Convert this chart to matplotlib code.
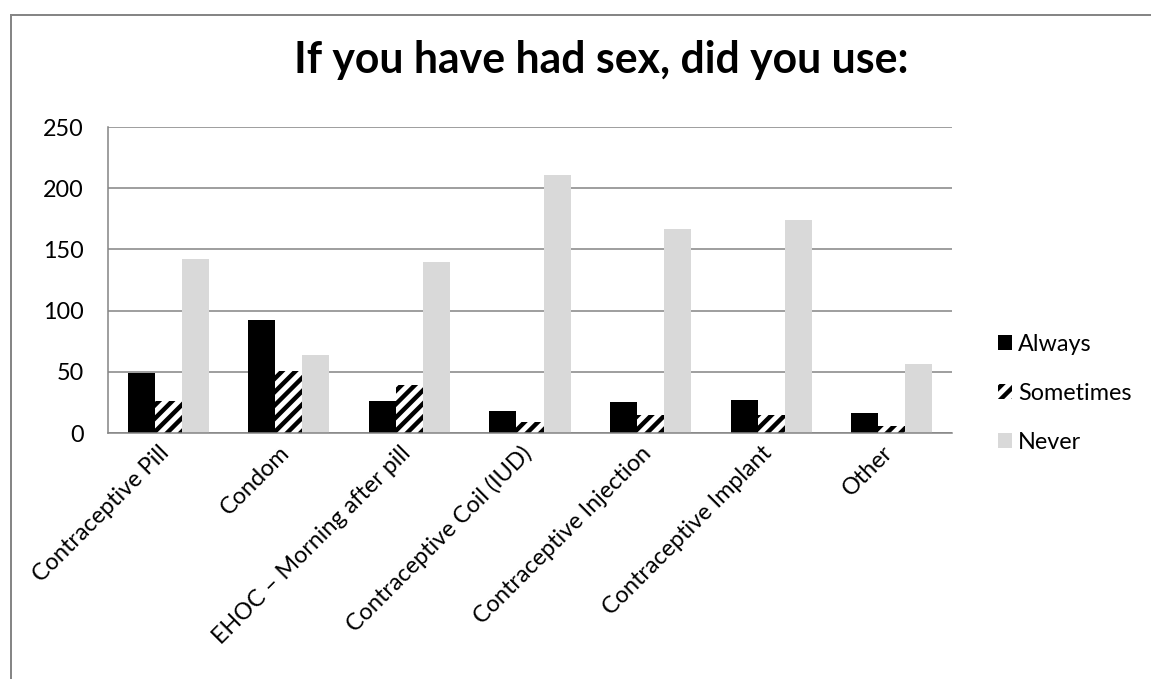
import numpy as np
import matplotlib
matplotlib.use("Agg")
import matplotlib.pyplot as plt
import matplotlib.transforms as mtransforms
from matplotlib.patches import Patch
from matplotlib.lines import Line2D

plt.rcParams['font.family'] = ['Lato', 'DejaVu Sans']
plt.rcParams['hatch.linewidth'] = 4.0

# Survey answers per method
categories = ["Contraceptive Pill", "Condom", "EHOC \u2013 Morning after pill",
              "Contraceptive Coil (IUD)", "Contraceptive Injection",
              "Contraceptive Implant", "Other"]
always = [49, 92, 26, 18, 25, 27, 16]
sometimes = [26, 51, 39, 9, 15, 15, 6]
never = [142, 64, 140, 211, 167, 174, 56]
yticks = [0, 50, 100, 150, 200, 250]

grey = "#868686"
light = "#D9D9D9"

dpi = 80
fig = plt.figure(figsize=(1151 / dpi, 679 / dpi), dpi=dpi)
ax = fig.add_axes([108 / 1151, 246 / 679, 844 / 1151, 306 / 679])

x = np.arange(len(categories))
w = 0.224
ax.bar(x - w, always, w, color="black", linewidth=0, label="Always")
ax.bar(x, sometimes, w, color="white", edgecolor="black", hatch="//",
       linewidth=0, label="Sometimes")
ax.bar(x + w, never, w, color=light, linewidth=0, label="Never")

ax.set_xlim(-0.5, len(categories) - 0.5)
ax.set_ylim(0, 250)
ax.set_yticks(yticks)
ax.set_yticklabels([str(v) for v in yticks], fontsize=21)
ax.set_xticks(x)
ax.set_xticklabels(categories, rotation=45, ha="right", rotation_mode="anchor",
                   fontsize=21)
ax.tick_params(axis="y", length=0, pad=22)
ax.tick_params(axis="x", length=0, pad=3)

# nudge the slanted category labels down-left
shift = mtransforms.ScaledTranslation(-10 / dpi, -6 / dpi, fig.dpi_scale_trans)
for lbl in ax.get_xticklabels():
    lbl.set_transform(lbl.get_transform() + shift)

ax.yaxis.grid(True, color=grey, linewidth=1.4)
ax.set_axisbelow(True)
for s in ["top", "right"]:
    ax.spines[s].set_visible(False)
for s in ["left", "bottom"]:
    ax.spines[s].set_color(grey)
    ax.spines[s].set_linewidth(1.4)

fig.text(601 / 1151, 1 - 73 / 679, "If you have had sex, did you use:",
         ha="center", va="baseline", fontsize=38.5, fontweight="bold")

handles = [Patch(facecolor="black", linewidth=0),
           Patch(facecolor="white", edgecolor="black", hatch="//", linewidth=0),
           Patch(facecolor=light, linewidth=0)]
fig.legend(handles, ["Always", "Sometimes", "Never"], loc="center left",
           bbox_to_anchor=(986 / 1151, 1 - 393 / 679), frameon=False,
           fontsize=21, handlelength=0.62, handleheight=0.62,
           handletextpad=0.25, labelspacing=1.2, borderpad=0)

# outer chart border (top and left edges only)
fig.add_artist(Line2D([11 / 1151, 1], [1 - 14.5 / 679] * 2, color=grey,
                      linewidth=1.8, transform=fig.transFigure))
fig.add_artist(Line2D([11 / 1151] * 2, [0, 1 - 14.5 / 679], color=grey,
                      linewidth=1.8, transform=fig.transFigure))

fig.savefig("out.png", dpi=dpi, facecolor="white")
